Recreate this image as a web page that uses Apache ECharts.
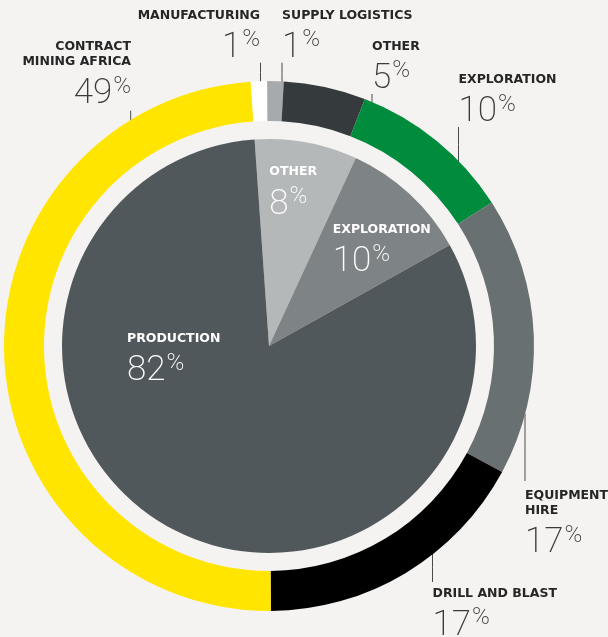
<!DOCTYPE html>
<html>
<head>
<meta charset="utf-8">
<script src="https://cdn.jsdelivr.net/npm/echarts@6/dist/echarts.min.js"></script>
<style>
html,body{margin:0;padding:0;background:#f4f3f1;}
#c{width:608px;height:637px;}
</style>
</head>
<body>
<div id="c"></div>
<script>
// ---- data ----
const outerNames = ['MANUFACTURING', 'SUPPLY LOGISTICS', 'OTHER', 'EXPLORATION', 'EQUIPMENT\nHIRE', 'DRILL AND BLAST', 'CONTRACT\nMINING AFRICA'];
const outerValues = [1, 1, 5, 10, 17, 17, 49];
const innerNames = ['OTHER', 'EXPLORATION', 'PRODUCTION'];
const innerValues = [8, 10, 82];

// ---- style / layout ----
const outerColors = ['#ffffff', '#a7aaac', '#353b3d', '#008b3d', '#697071', '#000000', '#ffe500'];
const innerColors = ['#b5b8b9', '#7e8385', '#51585b'];
const cx = 269, cy = 346, R0 = 225, R1 = 265, RP = 207;
const START = 94;
const LBL_OFF = 4; // cap-top to box-top offset

// label anchor: x, capTop y, align ; line: x, far y, side
const outerLabelPos = [
  {x: 260, y: 11.7, align: 'right', lx: 260.5, far: 62.7, side: -1},
  {x: 282, y: 11.7, align: 'left', lx: 282, far: 62.7, side: -1},
  {x: 372, y: 42.7, align: 'left', lx: 372, far: 94, side: -1},
  {x: 458.5, y: 76, align: 'left', lx: 458.5, far: 127, side: -1},
  {x: 525, y: 491.7, align: 'left', lx: 525, far: 481, side: 1},
  {x: 432.5, y: 589.5, align: 'left', lx: 432.5, far: 582, side: 1},
  {x: 131, y: 42.7, align: 'right', lx: 130.7, far: 110.7, side: -1}
];
const innerLabelPos = [
  {x: 269.3, y: 168.3},
  {x: 332.7, y: 226},
  {x: 127, y: 335}
];

function fmt(name, value) {
  const lines = name.split('\n').map(s => '{n|' + s + '}').join('\n');
  return lines + '\n{v|' + value + '}{p|%}';
}
function rich(color) {
  return {
    n: {fontFamily: 'DejaVu Sans', fontWeight: 'bold', fontSize: 12.5, lineHeight: 15.5, color: color.n},
    v: {fontFamily: 'Roboto', fontWeight: 200, fontSize: 35, lineHeight: 50, color: color.v},
    p: {fontFamily: 'Roboto', fontWeight: 200, fontSize: 24, lineHeight: 42, verticalAlign: 'top', padding: [5, 0, 0, 1], color: color.v}
  };
}

const chart = echarts.init(document.getElementById('c'), null, {renderer: 'canvas'});
chart.setOption({
  backgroundColor: '#f4f3f1',
  animation: false,
  series: [
    {
      type: 'pie',
      center: [cx, cy],
      radius: [0, RP],
      startAngle: START,
      clockwise: true,
      silent: true,
      itemStyle: {borderWidth: 0},
      data: innerNames.map((n, i) => ({name: n, value: innerValues[i], itemStyle: {color: innerColors[i]}})),
      label: {
        show: true,
        position: 'inside',
        overflow: 'none',
        formatter: p => fmt(p.name, p.value),
        rich: rich({n: '#ffffff', v: '#ffffff'})
      },
      labelLine: {show: false},
      labelLayout: p => {
        const q = innerLabelPos[p.dataIndex];
        return {x: q.x, y: q.y - LBL_OFF, align: 'left', verticalAlign: 'top', hideOverlap: false};
      }
    },
    {
      type: 'pie',
      center: [cx, cy],
      radius: [R0, R1],
      startAngle: START,
      clockwise: true,
      silent: true,
      avoidLabelOverlap: false,
      itemStyle: {borderWidth: 0},
      data: outerNames.map((n, i) => ({name: n, value: outerValues[i], itemStyle: {color: outerColors[i]}})),
      label: {
        show: true,
        position: 'outside',
        overflow: 'none',
        alignTo: 'none',
        formatter: p => fmt(p.name, p.value),
        rich: rich({n: '#262626', v: '#3a3a3a'})
      },
      labelLine: {show: true, length: 10, length2: 10, smooth: false, lineStyle: {color: '#4a4a4a', width: 1}},
      labelLayout: p => {
        const q = outerLabelPos[p.dataIndex];
        const dx = q.lx - cx;
        const ringY = cy + q.side * Math.sqrt(R1 * R1 - dx * dx) - q.side * 1;
        return {
          x: q.x, y: q.y - LBL_OFF, align: q.align, verticalAlign: 'top', hideOverlap: false,
          labelLinePoints: [[q.lx, ringY], [q.lx, (ringY + q.far) / 2], [q.lx, q.far]]
        };
      }
    }
  ]
});
</script>
</body>
</html>
